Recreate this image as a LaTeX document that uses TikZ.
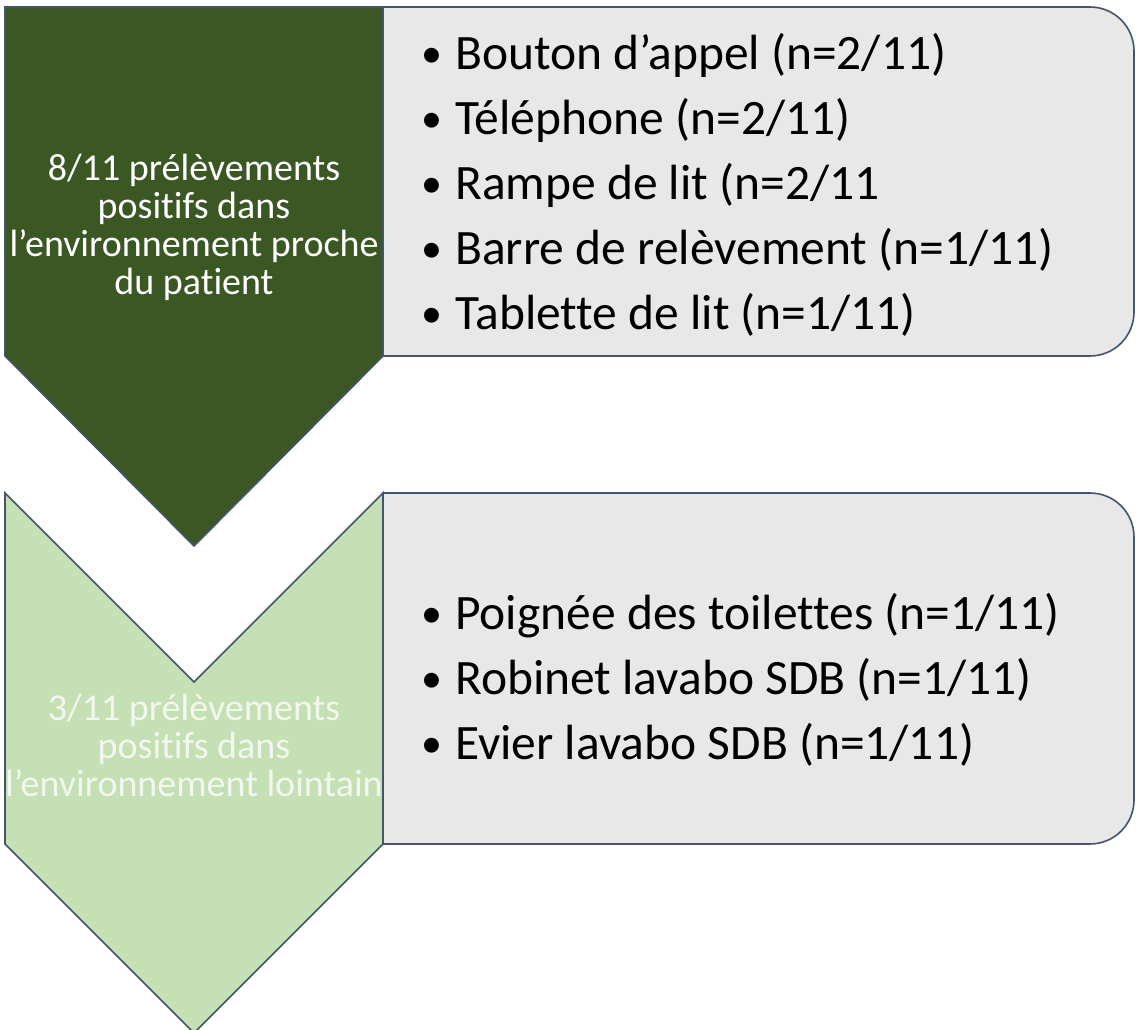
\documentclass[tikz,border=0pt]{standalone}
\usepackage{fontspec}
\setmainfont{Carlito}[Ligatures=NoCommon]
\definecolor{darkgreen}{HTML}{3A5724}
\definecolor{lightgreen}{HTML}{C5E0B4}
\definecolor{boxgray}{HTML}{E8E8E8}
\definecolor{edge}{HTML}{44546A}
\definecolor{paletext}{HTML}{F2F8EE}
\newcommand{\bul}{\makebox[34pt][l]{\raisebox{2pt}{\fontsize{42}{42}\selectfont\textbullet}}}
\begin{document}
\begin{tikzpicture}[x=1pt,y=1pt,
  chev/.style={draw=edge,line width=1.6pt,line join=miter},
  listbox/.style={draw=edge,line width=1.6pt,fill=boxgray},
  chevtext/.style={align=center,font=\fontsize{38}{38}\selectfont,inner sep=0pt},
  listtext/.style={align=left,anchor=west,font=\fontsize{49.5}{65}\selectfont,inner sep=0pt}]
\useasboundingbox (0,0) rectangle (1136,1029);
% box 1
\draw[listbox] (383,1022) -- (1090,1022) arc[start angle=90,end angle=0,radius=44]
  -- (1134,717) arc[start angle=0,end angle=-90,radius=44] -- (383,673) -- cycle;
% box 2
\draw[listbox] (383,536) -- (1090,536) arc[start angle=90,end angle=0,radius=44]
  -- (1134,229) arc[start angle=0,end angle=-90,radius=44] -- (383,185) -- cycle;
% chevron 1
\draw[chev,fill=darkgreen] (5,1022) -- (383,1022) -- (383,673) -- (194,483) -- (5,673) -- cycle;
% chevron 2
\draw[chev,fill=lightgreen] (5,536) -- (194,347) -- (383,536) -- (383,185) -- (194,-4) -- (5,185) -- cycle;
% texts
\node[chevtext,text=white] (c1) at (194,802) {8/11 prélèvements\\positifs dans\\l’environnement proche\\du patient};
\node[chevtext,text=paletext] (c2) at (194,284) {3/11 prélèvements\\positifs dans\\l’environnement lointain};
\node[listtext] (l1) at (421,844) {\bul Bouton d’appel (n=2/11)\\
\bul Téléphone (n=2/11)\\
\bul Rampe de lit (n=2/11\\
\bul Barre de relèvement (n=1/11)\\
\bul Tablette de lit (n=1/11)};
\node[listtext] (l2) at (421,349) {\bul Poignée des toilettes (n=1/11)\\
\bul Robinet lavabo SDB (n=1/11)\\
\bul Evier lavabo SDB (n=1/11)};
\end{tikzpicture}
\end{document}
